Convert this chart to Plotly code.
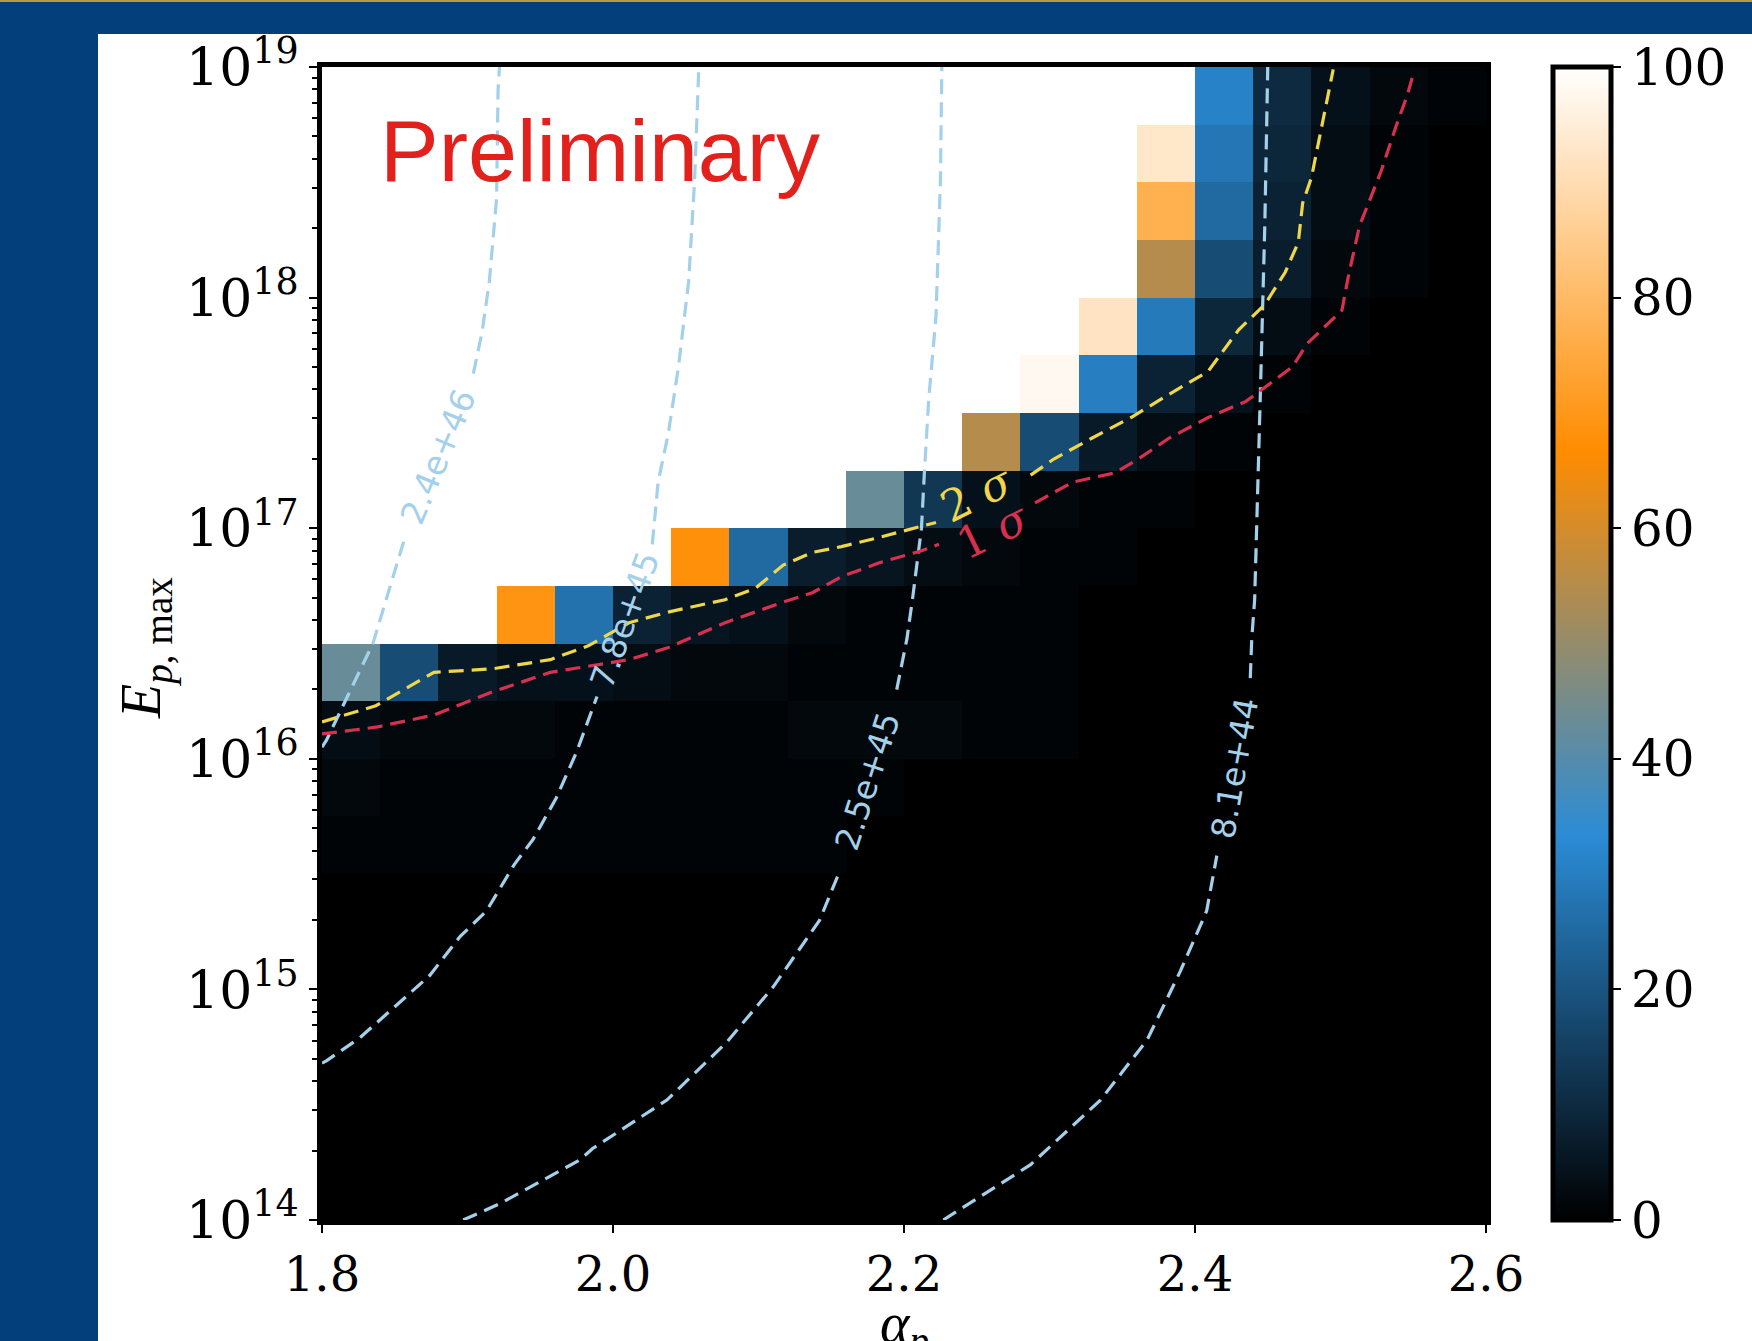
import plotly.graph_objects as go

# ---------------- data ----------------
alpha_edges = [1.80, 1.84, 1.88, 1.92, 1.96, 2.00, 2.04, 2.08, 2.12, 2.16, 2.20,
               2.24, 2.28, 2.32, 2.36, 2.40, 2.44, 2.48, 2.52, 2.56, 2.60]
logE_edges = [14.00, 14.25, 14.50, 14.75, 15.00, 15.25, 15.50, 15.75, 16.00, 16.25, 16.50,
              16.75, 17.00, 17.25, 17.50, 17.75, 18.00, 18.25, 18.50, 18.75, 19.00]

# percentage values, rows from bottom (logE 14.0-14.25) to top (18.75-19.0)
z_rows = [
    [0] * 20,
    [0] * 20,
    [0] * 20,
    [0] * 20,
    [0] * 20,
    [0] * 20,
    [1, 1, 1, 1, 1, 1, 1, 1, 1, 0, 0, 0, 0, 0, 0, 0, 0, 0, 0, 0],
    [2, 1, 1, 1, 1, 1, 1, 1, 1, 1, 0, 0, 0, 0, 0, 0, 0, 0, 0, 0],
    [3, 2, 2, 2, 1, 1, 1, 1, 2, 2, 2, 1, 1, 0, 0, 0, 0, 0, 0, 0],
    [43, 18, 6, 4, 4, 3, 2, 2, 1, 1, 1, 1, 1, 0, 0, 0, 0, 0, 0, 0],
    [100, 100, 100, 69, 27, 8, 5, 4, 2, 1, 1, 1, 1, 0, 0, 0, 0, 0, 0, 0],
    [100, 100, 100, 100, 100, 100, 68, 25, 7, 5, 3, 2, 1, 1, 0, 0, 0, 0, 0, 0],
    [100, 100, 100, 100, 100, 100, 100, 100, 100, 43, 13, 4, 2, 1, 1, 0, 0, 0, 0, 0],
    [100, 100, 100, 100, 100, 100, 100, 100, 100, 100, 100, 55, 18, 6, 3, 1, 0, 0, 0, 0],
    [100, 100, 100, 100, 100, 100, 100, 100, 100, 100, 100, 100, 98, 30, 8, 4, 1, 0, 0, 0],
    [100, 100, 100, 100, 100, 100, 100, 100, 100, 100, 100, 100, 100, 92, 29, 9, 3, 1, 0, 0],
    [100, 100, 100, 100, 100, 100, 100, 100, 100, 100, 100, 100, 100, 100, 55, 18, 7, 2, 1, 0],
    [100, 100, 100, 100, 100, 100, 100, 100, 100, 100, 100, 100, 100, 100, 77, 25, 8, 3, 1, 0],
    [100, 100, 100, 100, 100, 100, 100, 100, 100, 100, 100, 100, 100, 100, 93, 28, 9, 3, 1, 0],
    [100, 100, 100, 100, 100, 100, 100, 100, 100, 100, 100, 100, 100, 100, 100, 31, 10, 4, 2, 1],
]

# light-blue iso-lines (alpha, log10 E); None = gap for inline label
c1_label = "2.4e+46"
c1_x = [1.800, 1.803, 1.835, 1.857, None, 1.904, 1.910, 1.915, 1.920, 1.921, 1.922]
c1_y = [16.05, 16.08, 16.50, 16.96, None, 17.67, 17.85, 18.07, 18.43, 18.90, 19.00]

c2_label = "7.8e+45"
c2_x = [1.800, 1.803, 1.826, 1.874, 1.895, 1.913, 1.932, 1.945, 1.961, 1.975, 1.989,
        None, 2.027, 2.031, 2.038, 2.045, 2.052, 2.056, 2.059]
c2_y = [14.68, 14.69, 14.79, 15.06, 15.23, 15.34, 15.54, 15.65, 15.83, 16.03, 16.27,
        None, 16.93, 17.20, 17.41, 17.70, 18.07, 18.50, 19.00]

c3_label = "2.5e+45"
c3_x = [1.897, 1.922, 1.977, 1.986, 2.037, 2.078, 2.110, 2.142, 2.155,
        None, 2.195, 2.202, 2.206, 2.212, 2.214, 2.217, 2.222, 2.225, 2.226]
c3_y = [14.00, 14.07, 14.26, 14.31, 14.52, 14.77, 15.01, 15.30, 15.50,
        None, 16.30, 16.52, 16.70, 17.00, 17.24, 17.56, 17.92, 18.50, 19.00]

c4_label = "8.1e+44"
c4_x = [2.227, 2.287, 2.335, 2.367, 2.390, 2.408, 2.415,
        None, 2.438, 2.439, 2.441, 2.443, 2.445, 2.448, 2.450]
c4_y = [14.00, 14.24, 14.52, 14.78, 15.08, 15.34, 15.58,
        None, 16.35, 16.52, 16.69, 17.10, 17.60, 18.32, 19.00]

# 2 sigma (yellow) and 1 sigma (red) boundaries
s2_x = [1.800, 1.837, 1.877, 1.917, 1.957, 1.983, 2.011, 2.037, 2.077, 2.098, 2.117,
        2.137, 2.157, 2.183, 2.211, 2.222, None, 2.287, 2.303, 2.329, 2.356, 2.382,
        2.409, 2.430, 2.448, 2.462, 2.471, 2.474, 2.480, 2.488, 2.495]
s2_y = [16.16, 16.23, 16.375, 16.39, 16.43, 16.49, 16.59, 16.635, 16.69, 16.74, 16.84,
        16.895, 16.92, 16.96, 17.007, 17.025, None, 17.23, 17.30, 17.39, 17.48, 17.58,
        17.68, 17.86, 17.97, 18.11, 18.24, 18.41, 18.52, 18.77, 18.99]

s1_x = [1.800, 1.837, 1.877, 1.917, 1.957, 1.983, 2.011, 2.037, 2.077, 2.117, 2.137,
        2.157, 2.183, 2.211, 2.224, None, 2.290, 2.316, 2.345, 2.361, 2.382, 2.409,
        2.435, 2.448, 2.467, 2.477, 2.501, 2.505, 2.513, 2.528, 2.538, 2.546, 2.550]
s1_y = [16.108, 16.137, 16.19, 16.29, 16.375, 16.40, 16.43, 16.48, 16.59, 16.68, 16.72,
        16.79, 16.85, 16.90, 16.93, None, 17.11, 17.20, 17.24, 17.30, 17.39, 17.48,
        17.55, 17.61, 17.70, 17.80, 17.945, 18.08, 18.31, 18.55, 18.74, 18.88, 18.97]

x_ticks = [1.8, 2.0, 2.2, 2.4, 2.6]
x_ticktext = ["1.8", "2.0", "2.2", "2.4", "2.6"]
y_tick_exp = [14, 15, 16, 17, 18, 19]
cb_ticks = [0, 20, 40, 60, 80, 100]

# ---------------- styling ----------------
W, H = 1752, 1341
L, R, T, B = 322, 1486, 67, 1220  # plot area in pixels
pw, ph = R - L, B - T


def px(xp):
    return (xp - L) / pw


def py(yp):
    return (B - yp) / ph


LB = "#a3d0ea"
YEL = "#f0d64a"
RED = "#d9304f"
DASH = "15px,8px"
LW = 3.2

colorscale = [[0.0, "#000000"], [1 / 3, "#2b8cd6"], [2 / 3, "#ff8c00"], [1.0, "#ffffff"]]

fig = go.Figure()

fig.add_trace(go.Heatmap(
    x=alpha_edges,
    y=[10 ** v for v in logE_edges],
    z=z_rows,
    zmin=0, zmax=100,
    colorscale=colorscale,
    hoverinfo="skip",
    colorbar=dict(
        x=px(1553), xanchor="left", xpad=0, ypad=0,
        y=0.5, yanchor="middle", len=1, lenmode="fraction",
        thickness=58, thicknessmode="pixels",
        outlinewidth=5, outlinecolor="black",
        tickvals=cb_ticks, ticktext=[str(t) for t in cb_ticks],
        ticks="outside", ticklen=8, tickwidth=2, tickcolor="black",
        tickfont=dict(family="DejaVu Serif", size=50, color="black"),
    ),
))


def tolin(vals):
    return [None if v is None else 10 ** v for v in vals]


for xs, ys, col in [(c1_x, c1_y, LB), (c2_x, c2_y, LB), (c3_x, c3_y, LB), (c4_x, c4_y, LB),
                    (s2_x, s2_y, YEL), (s1_x, s1_y, RED)]:
    fig.add_trace(go.Scatter(
        x=xs, y=tolin(ys), mode="lines",
        line=dict(color=col, width=LW, dash=DASH),
        connectgaps=False, hoverinfo="skip", showlegend=False,
    ))

annotations = []
lab_font = dict(family="DejaVu Sans", size=33)
for text, xc, yc, ang in [(c1_label, 1.880, 17.31, -67),
                          (c2_label, 2.008, 16.60, -70),
                          (c3_label, 2.175, 15.90, -72),
                          (c4_label, 2.427, 15.96, -80)]:
    annotations.append(dict(x=xc, y=yc, xref="x", yref="y", text=text, showarrow=False,
                            textangle=ang, font=dict(color=LB, **lab_font)))

annotations.append(dict(x=2.250, y=17.15, xref="x", yref="y", text="2 <i>σ</i>", showarrow=False,
                        textangle=-26, font=dict(family="DejaVu Serif", size=44, color=YEL)))
annotations.append(dict(x=2.261, y=16.99, xref="x", yref="y", text="1 <i>σ</i>", showarrow=False,
                        textangle=-26, font=dict(family="DejaVu Serif", size=44, color=RED)))

annotations.append(dict(x=px(378), y=py(150), xref="paper", yref="paper", text="Preliminary",
                        showarrow=False, xanchor="left", yanchor="middle",
                        font=dict(family="Liberation Sans", size=88, color="#e3211c")))

annotations.append(dict(x=px(145), y=py(648), xref="paper", yref="paper",
                        text="<i>E</i><sub><i>p</i>, max</sub>", showarrow=False,
                        textangle=-90, xanchor="center", yanchor="middle",
                        font=dict(family="Liberation Serif", size=56, color="black")))
annotations.append(dict(x=0.5, y=py(1290), xref="paper", yref="paper",
                        text="<i>α</i><sub><i>p</i></sub>", showarrow=False,
                        xanchor="center", yanchor="top",
                        font=dict(family="Liberation Serif", size=56, color="black")))

minor_vals = [k * 10 ** e for e in range(14, 19) for k in range(2, 10)]

fig.update_layout(
    width=W, height=H,
    margin=dict(l=L, r=W - R, t=T, b=H - B, autoexpand=False),
    paper_bgcolor="#023f7b",
    plot_bgcolor="white",
    showlegend=False,
    annotations=annotations,
    shapes=[
        dict(type="rect", xref="paper", yref="paper", x0=px(98), x1=px(1800),
             y0=py(1400), y1=py(34), fillcolor="white", line=dict(width=0), layer="below"),
        dict(type="line", xref="paper", yref="paper", x0=px(-10), x1=px(1800),
             y0=py(1), y1=py(1), line=dict(color="#b79b45", width=2), layer="below"),
    ],
    xaxis=dict(
        range=[1.8, 2.6], tickvals=x_ticks, ticktext=x_ticktext,
        ticks="outside", ticklen=8, tickwidth=2, tickcolor="black",
        tickfont=dict(family="DejaVu Serif", size=48, color="black"),
        showline=True, linewidth=5, linecolor="black", mirror=True,
        showgrid=False, zeroline=False,
    ),
    yaxis=dict(
        type="log", range=[14, 19],
        tickvals=[10 ** e for e in y_tick_exp],
        ticktext=[f"10<sup>{e}</sup>" for e in y_tick_exp],
        ticks="outside", ticklen=8, tickwidth=2, tickcolor="black",
        tickfont=dict(family="DejaVu Serif", size=52, color="black"),
        minor=dict(tickvals=minor_vals, ticks="outside", ticklen=5, tickwidth=1.5,
                   tickcolor="black", showgrid=False),
        showline=True, linewidth=5, linecolor="black", mirror=True,
        showgrid=False, zeroline=False,
    ),
)

fig.write_html(
    "out.html",
    config={"displayModeBar": False},
    post_script="document.body.style.margin='0px';document.body.style.overflow='hidden';",
)
